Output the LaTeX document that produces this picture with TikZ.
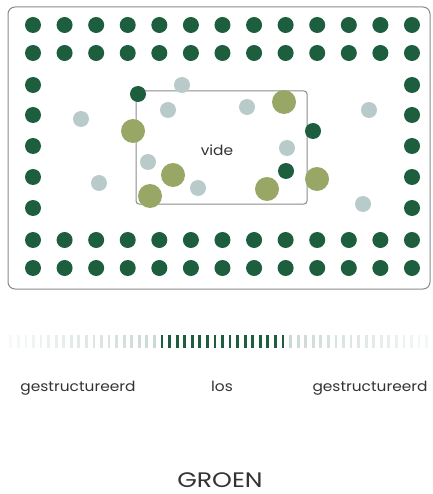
\documentclass[tikz,border=0pt]{standalone}
\usepackage{fontspec}
\setmainfont{Poppins}
\definecolor{dkgreen}{HTML}{1C5E3E}
\definecolor{lblue}{HTML}{B9CACA}
\definecolor{olive}{HTML}{99A766}
\definecolor{txtgray}{HTML}{333333}
\definecolor{framegray}{HTML}{8A8A8A}
\tikzset{
  dk/.style={fill=dkgreen},
  lb/.style={fill=lblue},
  ol/.style={fill=olive},
  lbl/.style={text=txtgray,font=\fontsize{14}{16}\selectfont,inner sep=0pt},
}
\begin{document}
\begin{tikzpicture}[x=1pt,y=-1pt]
\useasboundingbox (0,0) rectangle (432,494);
% outer frame
\draw[framegray,line width=1pt,rounded corners=7pt] (8,7) rectangle (430,289);
% dark border dots: full rows
\foreach \yy in {25,53,240,268}{
  \foreach \i in {0,...,12}{
    \fill[dk] ({33+\i*31.58},\yy) circle (8);
  }
}
% side columns
\foreach \yy in {85,115,146,177,208}{
  \fill[dk] (33,\yy) circle (8);
  \fill[dk] (412,\yy) circle (8);
}
% inner frame
\draw[framegray,line width=1pt,rounded corners=3pt] (136,91) rectangle (307,204);
\node[lbl] (vide) at (217,150) {\scalebox{1.1}[1]{vide}};
% scattered dots
\fill[lb] (182,85) circle (8);
\fill[lb] (168,110) circle (8);
\fill[lb] (247,107) circle (8);
\fill[lb] (369,110) circle (8);
\fill[lb] (81,119) circle (8);
\fill[lb] (287,148) circle (8);
\fill[lb] (148,162) circle (8);
\fill[lb] (99,183) circle (8);
\fill[lb] (198,188) circle (8);
\fill[lb] (363,204) circle (8);
\fill[dk] (138,94) circle (8);
\fill[dk] (313,131) circle (8);
\fill[dk] (286,171) circle (8);
\fill[ol] (284,102) circle (12);
\fill[ol] (133,131) circle (12);
\fill[ol] (173,175) circle (12);
\fill[ol] (317,179) circle (12);
\fill[ol] (267,189) circle (12);
\fill[ol] (150,196) circle (12);
% scale bar
\foreach \i in {0,...,16}{
  \fill[dkgreen] ({162+\i*7.56-1.4},335) rectangle ++(2.8,13);
}
\foreach \k in {1,...,20}{
  \pgfmathsetmacro\op{0.24-0.010*\k}
  \fill[dkgreen,fill opacity=\op] ({162-\k*7.56-1.4},335) rectangle ++(2.8,13);
}
\foreach \k in {1,...,19}{
  \pgfmathsetmacro\op{0.24-0.010*\k}
  \fill[dkgreen,fill opacity=\op] ({283+\k*7.56-1.4},335) rectangle ++(2.8,13);
}
% labels
\node[lbl] (g1) at (78,388) {\scalebox{1.1}[1]{gestructureerd}};
\node[lbl] (los) at (222,386) {\scalebox{1.1}[1]{los}};
\node[lbl] (g2) at (370,388) {\scalebox{1.1}[1]{gestructureerd}};
\node[lbl,font=\fontsize{21}{24}\selectfont] (groen) at (220,480) {\scalebox{1.2}[1]{GROEN}};
\end{tikzpicture}
\end{document}
